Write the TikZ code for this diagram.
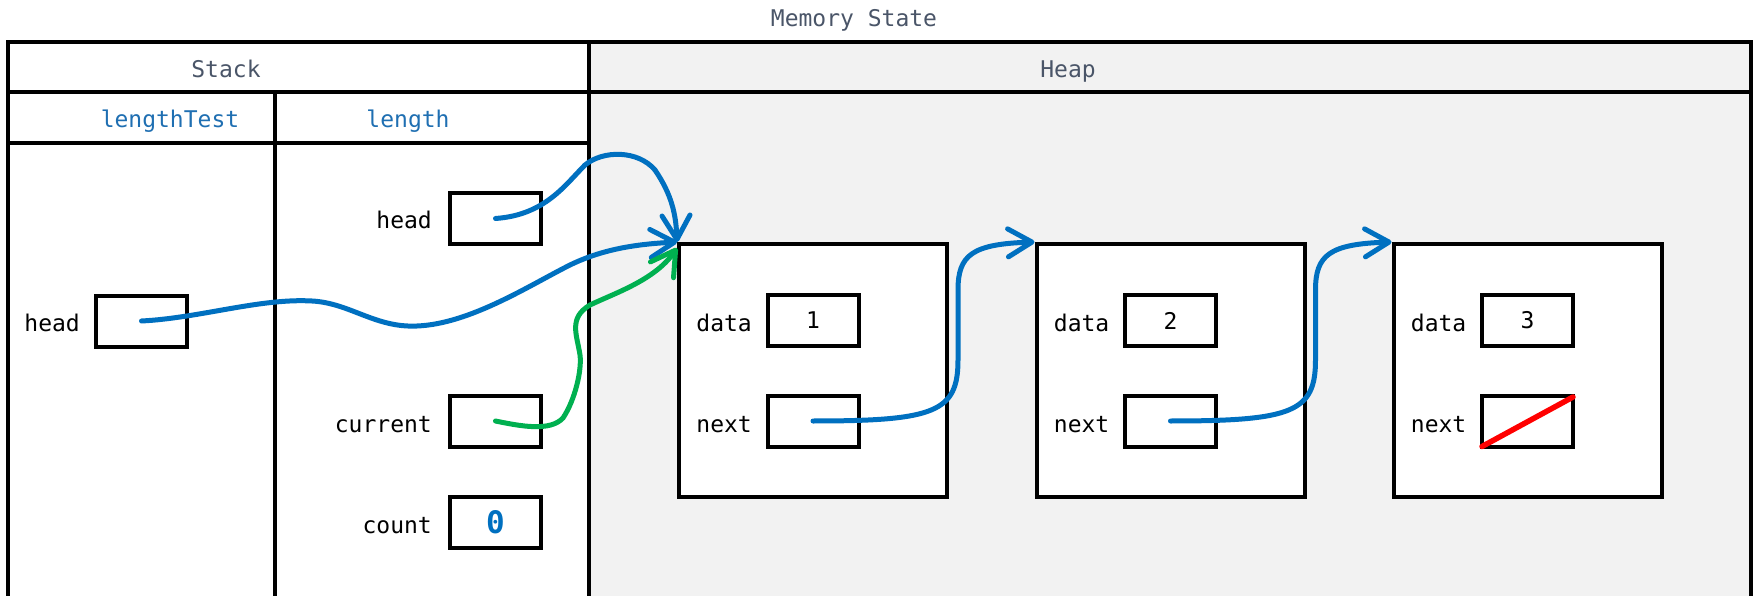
\documentclass[tikz,border=0pt]{standalone}
\usepackage{fontspec}
\setmainfont{DejaVu Sans Mono}
\usetikzlibrary{arrows.meta}
\definecolor{ptrblue}{HTML}{0070C0}
\definecolor{ptrgreen}{HTML}{00B050}
\definecolor{titlegray}{HTML}{4A5568}
\definecolor{headblue}{HTML}{1F6FB2}
\definecolor{heapgray}{HTML}{F2F2F2}
\tikzset{
  frame/.style={line width=4pt},
  cell/.style={draw, line width=4pt, fill=white, minimum width=91pt, minimum height=51pt, inner sep=0pt, font=\fontsize{23}{27}\selectfont},
  objbox/.style={draw, line width=4pt, fill=white, minimum width=268pt, minimum height=253pt, inner sep=0pt},
  lbl/.style={font=\fontsize{23}{27}\selectfont, inner sep=0pt, anchor=base east},
  hdr/.style={font=\fontsize{23}{27}\selectfont, inner sep=0pt, anchor=base, text=titlegray},
  fnhdr/.style={font=\fontsize{23}{27}\selectfont, inner sep=0pt, anchor=base, text=headblue},
  ptr/.style={line width=5pt, ptrblue, line cap=round, -{Straight Barb[length=24pt,width=28pt,round]}},
  gptr/.style={line width=5pt, ptrgreen, line cap=round, -{Straight Barb[length=24pt,width=28pt,round]}},
  nullmark/.style={line width=5.5pt, red, line cap=round}
}
\begin{document}
\begin{tikzpicture}[x=1pt,y=-1pt]
\clip (0,0) rectangle (1757,596);
\fill[white] (0,0) rectangle (1757,596);
% regions
\fill[heapgray] (589,42) rectangle (1751,600);
\draw[frame] (8,600) -- (8,42) -- (1751,42) -- (1751,600);
\draw[frame] (8,92) -- (1751,92);
\draw[frame] (8,143) -- (589,143);
\draw[frame] (589,42) -- (589,600);
\draw[frame] (275,92) -- (275,600);
% headings
\node[hdr] (title) at (854,27) {Memory State};
\node[hdr] (stackhdr) at (226,78) {Stack};
\node[hdr] (heaphdr) at (1068,78) {Heap};
\node[fnhdr] (lthdr) at (170,128) {lengthTest};
\node[fnhdr] (lhdr) at (408,128) {length};
% stack cells
\node[cell] (lthead) at (141.5,321) {};
\node[lbl] (ltheadl) at (80,331) {head};
\node[cell] (lhead) at (495.5,218.5) {};
\node[lbl] (lheadl) at (432,229) {head};
\node[cell] (lcur) at (495.5,421) {};
\node[lbl] (lcurl) at (432,432) {current};
\node[cell] (lcount) at (495.5,522.5) {\fontsize{31}{31}\selectfont\bfseries\color{ptrblue}0};
\node[lbl] (lcountl) at (432,533) {count};
% heap objects
\node[objbox] (n1) at (813,370.5) {};
\node[cell] (d1) at (813,320.5) {1};
\node[cell] (x1) at (813,421) {};
\node[lbl] (d1l) at (752,331) {data};
\node[lbl] (x1l) at (752,432) {next};
\node[objbox] (n2) at (1170.5,370.5) {};
\node[cell] (d2) at (1170.5,320.5) {2};
\node[cell] (x2) at (1170.5,421) {};
\node[lbl] (d2l) at (1109.5,331) {data};
\node[lbl] (x2l) at (1109.5,432) {next};
\node[objbox] (n3) at (1527.5,370.5) {};
\node[cell] (d3) at (1527.5,320.5) {3};
\node[cell] (x3) at (1527.5,421) {};
\node[lbl] (d3l) at (1466.5,331) {data};
\node[lbl] (x3l) at (1466.5,432) {next};
% pointers
\draw[ptr] (lhead.center) .. controls (545,215) and (565,185) .. (585,165)
  .. controls (603,150) and (638,150) .. (655,170)
  .. controls (672,195) and (676,215) .. (n1.north west);
\draw[ptr] (lthead.center) .. controls (200,318) and (260,298) .. (312,301)
  .. controls (350,303) and (375,328) .. (417,326)
  .. controls (470,324) and (530,285) .. (570,265)
  .. controls (605,248) and (640,244) .. (n1.north west);
\draw[gptr] (lcur.center) .. controls (520,426) and (550,432) .. (563,418)
  .. controls (575,400) and (582,370) .. (580,355)
  .. controls (577,335) and (568,318) .. (590,305)
  .. controls (615,293) and (655,280) .. ([yshift=-6pt]n1.north west);
\draw[ptr] (x1.center) .. controls (935,421) and (958,412) .. (958,360) -- (958,290)
  .. controls (958,255) and (972,244) .. (n2.north west);
\draw[ptr] (x2.center) .. controls (1292.5,421) and (1315.5,412) .. (1315.5,360) -- (1315.5,290)
  .. controls (1315.5,255) and (1329.5,244) .. (n3.north west);
\draw[nullmark] ([shift={(2pt,2pt)}]x3.south west) -- ([shift={(-2pt,-3.5pt)}]x3.north east);
\end{tikzpicture}
\end{document}
